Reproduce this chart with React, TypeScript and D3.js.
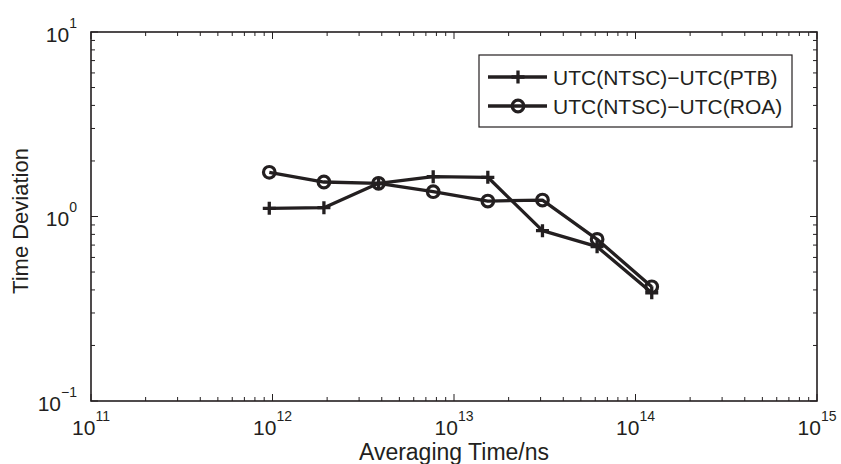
import * as d3 from 'd3';

const tau = [9.6e11, 1.92e12, 3.84e12, 7.68e12, 1.536e13, 3.072e13, 6.144e13, 1.2288e14];
const ptb = [1.108, 1.116, 1.513, 1.643, 1.631, 0.838, 0.686, 0.386];
const roa = [1.736, 1.538, 1.513, 1.363, 1.213, 1.228, 0.752, 0.416];
const xExps = [11, 12, 13, 14, 15];
const yExps = [-1, 0, 1];
const seriesNames = ['UTC(NTSC)\u2212UTC(PTB)', 'UTC(NTSC)\u2212UTC(ROA)'];

const W = 841;
const H = 464;
const M = { left: 91, right: 817, top: 32, bottom: 401 };
const INK = '#231f20';
const FONT = '"Liberation Sans", Arial, Helvetica, sans-serif';

export default function App() {
  const x = d3.scaleLog().domain([1e11, 1e15]).range([M.left, M.right]);
  const y = d3.scaleLog().domain([0.1, 10]).range([M.bottom, M.top]);

  const line = d3
    .line<number>()
    .x((_, i) => x(tau[i]))
    .y((d) => y(d));

  // minor ticks 2..9 in each decade
  const xMinor: number[] = [];
  for (let e = 11; e < 15; e++) for (let k = 2; k <= 9; k++) xMinor.push(k * Math.pow(10, e));
  const yMinor: number[] = [];
  for (let e = -1; e < 1; e++) for (let k = 2; k <= 9; k++) yMinor.push(k * Math.pow(10, e));

  const plus = (cx: number, cy: number, key: string) => (
    <path key={key} d={`M${cx - 6.5},${cy}H${cx + 6.5}M${cx},${cy - 6.5}V${cy + 6.5}`} stroke={INK} strokeWidth={3.3} />
  );
  const circ = (cx: number, cy: number, key: string) => (
    <circle key={key} cx={cx} cy={cy} r={5.8} fill="none" stroke={INK} strokeWidth={3.2} />
  );

  const legX = 479;
  const legRows = [77, 106];

  return (
    <svg width={W} height={H} style={{ position: 'absolute', left: 0, top: 0, background: '#fff' }} fontFamily={FONT}>
      <rect x={0} y={0} width={W} height={H} fill="#fff" />

      {/* ticks on all four sides */}
      <g stroke={INK} strokeWidth={1}>
        {xMinor.map((v, i) => (
          <g key={'xm' + i}>
            <line x1={x(v)} x2={x(v)} y1={M.bottom} y2={M.bottom - 4} />
            <line x1={x(v)} x2={x(v)} y1={M.top} y2={M.top + 4} />
          </g>
        ))}
        {xExps.map((e) => (
          <g key={'xM' + e}>
            <line x1={x(10 ** e)} x2={x(10 ** e)} y1={M.bottom} y2={M.bottom - 7} />
            <line x1={x(10 ** e)} x2={x(10 ** e)} y1={M.top} y2={M.top + 7} />
          </g>
        ))}
        {yMinor.map((v, i) => (
          <g key={'ym' + i}>
            <line x1={M.left} x2={M.left + 4} y1={y(v)} y2={y(v)} />
            <line x1={M.right} x2={M.right - 4} y1={y(v)} y2={y(v)} />
          </g>
        ))}
        {yExps.map((e) => (
          <g key={'yM' + e}>
            <line x1={M.left} x2={M.left + 7} y1={y(10 ** e)} y2={y(10 ** e)} />
            <line x1={M.right} x2={M.right - 7} y1={y(10 ** e)} y2={y(10 ** e)} />
          </g>
        ))}
      </g>
      <rect x={M.left} y={M.top} width={M.right - M.left} height={M.bottom - M.top} fill="none" stroke={INK} strokeWidth={1.6} />

      {/* tick labels */}
      {xExps.map((e) => (
        <text key={'xl' + e} x={x(10 ** e)} y={435} textAnchor="middle" fontSize={21} fill={INK}>
          10<tspan dy={-14} fontSize={14}>{e}</tspan>
        </text>
      ))}
      {yExps.map((e) => (
        <text key={'yl' + e} x={77} y={y(10 ** e) + 9.5} textAnchor="end" fontSize={21} fill={INK}>
          10<tspan dy={-14} fontSize={14}>{e < 0 ? '\u2212' + Math.abs(e) : e}</tspan>
        </text>
      ))}

      {/* axis titles */}
      <text x={(M.left + M.right) / 2} y={460} textAnchor="middle" fontSize={23} fill={INK}>
        Averaging Time/ns
      </text>
      <text transform={`translate(28,${221}) rotate(-90)`} textAnchor="middle" fontSize={22} fill={INK}>
        Time Deviation
      </text>

      {/* series */}
      <path d={line(ptb) ?? ''} fill="none" stroke={INK} strokeWidth={3.3} strokeLinejoin="round" />
      <path d={line(roa) ?? ''} fill="none" stroke={INK} strokeWidth={3.3} strokeLinejoin="round" />
      {ptb.map((v, i) => plus(x(tau[i]), y(v), 'p' + i))}
      {roa.map((v, i) => circ(x(tau[i]), y(v), 'r' + i))}

      {/* legend */}
      <rect x={legX} y={55} width={792 - legX} height={72} fill="#fff" stroke={INK} strokeWidth={1.2} />
      {legRows.map((ry, i) => (
        <g key={'lg' + i}>
          <line x1={488} x2={547} y1={ry} y2={ry} stroke={INK} strokeWidth={3.3} />
          {i === 0 ? plus(518, ry, 'lp') : circ(518, ry, 'lc')}
          <text x={553} y={ry + 7.5} fontSize={21} fill={INK}>
            {seriesNames[i]}
          </text>
        </g>
      ))}
    </svg>
  );
}
